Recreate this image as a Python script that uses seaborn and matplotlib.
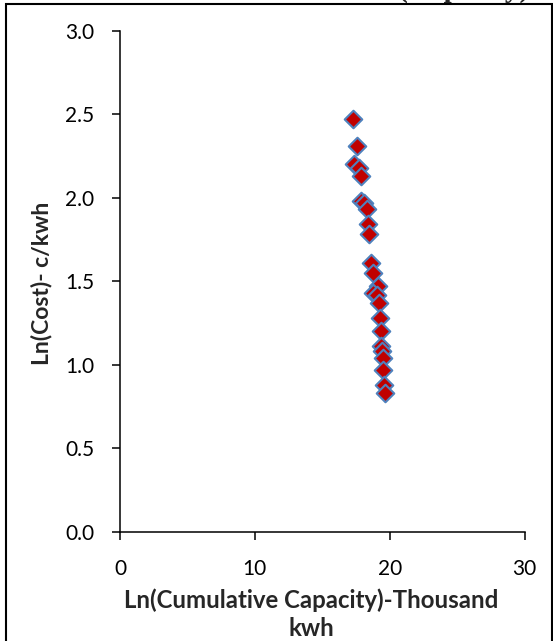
import seaborn as sns
import matplotlib.pyplot as plt
import pandas as pd
from matplotlib.patches import Rectangle

# Ln(cumulative capacity) vs Ln(cost)
ln_capacity = [17.26, 17.56, 17.36, 17.75, 17.85, 17.90, 18.10, 18.30, 18.40, 18.50,
               18.65, 18.79, 19.14, 18.79, 19.04, 19.24, 19.29, 19.34, 19.38, 19.44,
               19.49, 19.53, 19.58, 19.64]
ln_cost = [2.47, 2.31, 2.20, 2.18, 2.13, 1.98, 1.97, 1.93, 1.84, 1.78,
           1.61, 1.55, 1.47, 1.43, 1.42, 1.37, 1.28, 1.20, 1.11, 1.08,
           1.04, 0.97, 0.88, 0.83]
x_ticks = [0, 10, 20, 30]
y_ticks = [0.0, 0.5, 1.0, 1.5, 2.0, 2.5, 3.0]

df = pd.DataFrame({"cap": ln_capacity, "cost": ln_cost})

sns.set_style("white")
plt.rcParams["font.family"] = ["Lato", "DejaVu Sans"]

W, H = 553, 641
fig = plt.figure(figsize=(W / 100, H / 100), dpi=100)
ax = fig.add_axes([120 / W, 1 - 531.7 / H, (524.5 - 120) / W, (531.7 - 30.7) / H])

sns.scatterplot(data=df, x="cap", y="cost", marker="D", s=80, color="#C00000",
                edgecolor="#4F81BD", linewidth=1.5, ax=ax, zorder=3)

ax.set_xlim(0, 30)
ax.set_ylim(0, 3.0)
ax.set_xticks(x_ticks)
ax.set_xticklabels([str(t) for t in x_ticks])
ax.set_yticks(y_ticks)
ax.set_yticklabels([f"{t:.1f}" for t in y_ticks])

for side in ["top", "right"]:
    ax.spines[side].set_visible(False)
for side in ["left", "bottom"]:
    ax.spines[side].set_color("black")
    ax.spines[side].set_linewidth(1.1)

ax.tick_params(axis="both", direction="out", length=5.5, width=1.1, color="black",
               labelsize=15, labelcolor="black")
ax.tick_params(axis="y", pad=13, left=True)
ax.tick_params(axis="x", pad=14, bottom=True)

ax.set_xlabel("Ln(Cumulative Capacity)-Thousand\nkwh", fontsize=17.3, fontweight="bold",
              linespacing=1.25)
ax.set_ylabel("Ln(Cost)- c/kwh", fontsize=16.5, fontweight="bold")
ax.yaxis.set_label_coords(-(120 - 42) / (524.5 - 120), (531.7 - 283.5) / 501)
ax.yaxis.label.set_va("center")
ax.xaxis.set_label_coords((311 - 120) / (524.5 - 120), -(614 - 531.7) / 501)
ax.xaxis.label.set_va("center")

# title cut off above the frame, only descenders show
fig.text(529 / W, 1 + 3 / H, "Cost vs. Cumulative (Capacity)", ha="right", va="baseline",
         fontsize=21, fontweight="bold", family="Liberation Serif")

# outer frame
fig.patches.append(Rectangle((5.5 / W, -0.01), (551.5 - 5.5) / W, 1.01 - 4 / H,
                             transform=fig.transFigure, fill=False,
                             edgecolor="black", linewidth=1.5))

fig.savefig("out.png", dpi=100)
